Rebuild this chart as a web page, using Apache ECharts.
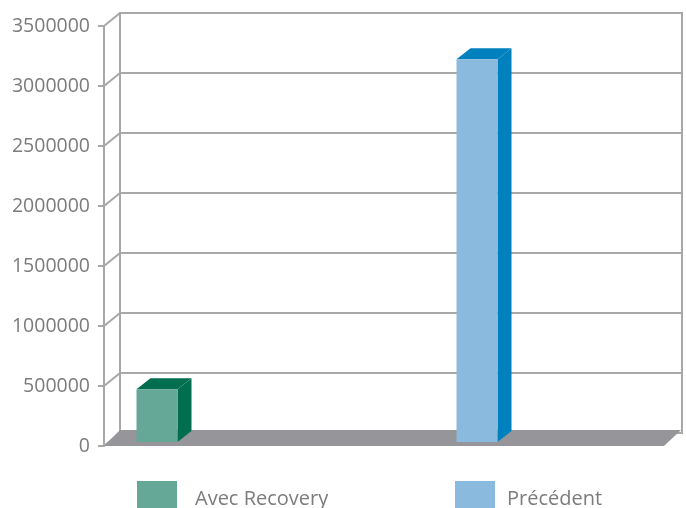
<!DOCTYPE html>
<html>
<head>
<meta charset="utf-8">
<script src="https://cdn.jsdelivr.net/npm/echarts@6/dist/echarts.min.js"></script>
<style>
html,body{margin:0;padding:0;background:#fff;}
#chart{width:686px;height:508px;}
</style>
</head>
<body>
<div id="chart"></div>
<script>
// Data
const categories = ['Avec Recovery', 'Précédent'];
const values = [440000, 3190000];
const yTicks = [0, 500000, 1000000, 1500000, 2000000, 2500000, 3000000, 3500000];
const frontColors = ['#65A897', '#8ABADD'];
const darkColors = ['#006E4F', '#0080BC'];

const yMin = 0, yMax = 3500000, yInt = 500000;
const lineColor = '#a8a8a8';
const labelColor = '#7c7c7c';
const font = 'Open Sans';

const chart = echarts.init(document.getElementById('chart'), null, {renderer: 'canvas'});

const barSeries = categories.map(function (name, i) {
  return {
    type: 'custom',
    name: name,
    xAxisIndex: 2,
    yAxisIndex: 2,
    z: 5,
    itemStyle: {color: frontColors[i]},
    data: [[i, values[i]]],
    renderItem: function (params, api) {
      const top = api.coord([api.value(0), api.value(1)]);
      const base = api.coord([api.value(0), 0]);
      const w = 41, dx = 14, dy = 11;
      const x0 = top[0] - w / 2, x1 = top[0] + w / 2;
      return {
        type: 'group',
        children: [
          {type: 'polygon', shape: {points: [[x1, top[1]], [x1 + dx, top[1] - dy], [x1 + dx, base[1] - dy], [x1, base[1]]]},
           style: {fill: darkColors[i]}},
          {type: 'polygon', shape: {points: [[x0, top[1]], [x0 + dx, top[1] - dy], [x1 + dx, top[1] - dy], [x1, top[1]]]},
           style: {fill: darkColors[i]}},
          {type: 'rect', shape: {x: x0, y: top[1], width: w, height: base[1] - top[1]},
           style: {fill: frontColors[i]}}
        ]
      };
    }
  };
});

const legendText1 = {color: labelColor, fontSize: 20, fontFamily: font, padding: [10, 0, 0, 13]};
const legendText2 = {color: labelColor, fontSize: 20, fontFamily: font, padding: [10, 0, 0, 7]};

const option = {
  animation: false,
  grid: [
    {left: 120, right: 4, top: 13, bottom: 75, show: true, borderColor: lineColor, borderWidth: 2, backgroundColor: 'transparent'},
    {left: 104, right: 22, top: 26, bottom: 62},
    {left: 157, right: 209, top: 22, bottom: 66}
  ],
  legend: [
    {left: 137, top: 481, padding: 0, itemWidth: 40, itemHeight: 36, icon: 'rect', data: [categories[0]], textStyle: legendText1},
    {left: 455, top: 481, padding: 0, itemWidth: 40, itemHeight: 36, icon: 'rect', data: [categories[1]], textStyle: legendText2}
  ],
  xAxis: [
    {gridIndex: 0, type: 'value', min: 0, max: 1, show: false},
    {gridIndex: 1, type: 'value', min: 0, max: 1, show: false},
    {gridIndex: 2, type: 'category', data: categories, boundaryGap: false, show: false}
  ],
  yAxis: [
    {gridIndex: 0, type: 'value', min: yMin, max: yMax, interval: yInt,
     axisLabel: {show: false}, axisLine: {show: false}, axisTick: {show: false},
     splitLine: {show: true, lineStyle: {color: lineColor, width: 2}}},
    {gridIndex: 1, type: 'value', min: yMin, max: yMax, interval: yInt,
     axisLine: {show: true, lineStyle: {color: lineColor, width: 2}},
     axisTick: {show: true, length: 6, lineStyle: {color: lineColor, width: 2}},
     axisLabel: {color: labelColor, fontSize: 19.5, fontFamily: font, margin: 14,
                 formatter: function (v) { return String(v); }},
     splitLine: {show: false}},
    {gridIndex: 2, type: 'value', min: yMin, max: yMax, interval: yInt, show: false}
  ],
  series: [
    {
      type: 'custom', xAxisIndex: 1, yAxisIndex: 1, silent: true, z: 2,
      data: yTicks.map(function (v) { return [0, v]; }),
      renderItem: function (params, api) {
        const p = api.coord([api.value(0), api.value(1)]);
        return {type: 'line', shape: {x1: p[0], y1: p[1], x2: p[0] + 16, y2: p[1] - 13},
                style: {stroke: lineColor, lineWidth: 2}};
      }
    },
    {
      type: 'custom', xAxisIndex: 1, yAxisIndex: 1, silent: true, z: 3,
      data: [[0, 0]],
      renderItem: function (params, api) {
        const a = api.coord([0, 0]);
        const b = api.coord([1, 0]);
        return {type: 'polygon', shape: {points: [[a[0], a[1]], [a[0] + 16, a[1] - 16], [b[0] + 17, b[1] - 16], [b[0], b[1]]]},
                style: {fill: '#96969A'}};
      }
    }
  ].concat(barSeries)
};
chart.setOption(option);
</script>
</body>
</html>
